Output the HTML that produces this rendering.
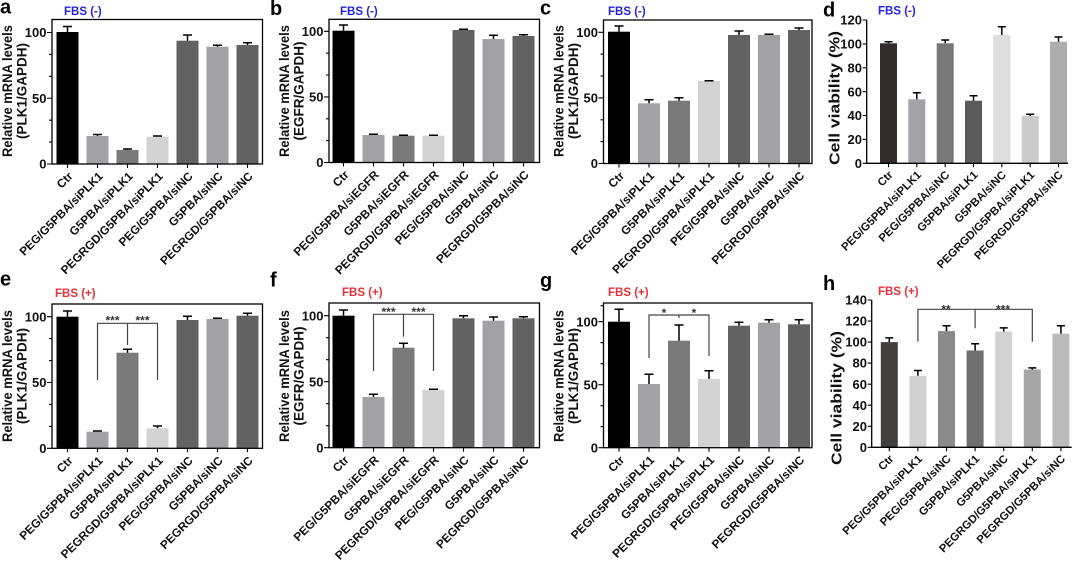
<!DOCTYPE html>
<html><head><meta charset="utf-8"><style>
html,body{margin:0;padding:0;background:#fff;}
svg{display:block;}
text{font-family:"Liberation Sans",Arial,sans-serif;font-weight:bold;fill:#111;}
.yt{font-size:13px;text-anchor:end;}
.yt2{font-size:13px;text-anchor:end;}
.xl{font-size:11.8px;text-anchor:end;}
.xl2{font-size:11.3px;text-anchor:end;}
.ti{font-size:13.5px;text-anchor:middle;}
.lt{font-size:20px;fill:#000;}
.fm{font-size:11.5px;fill:#2323e8;}
.fp{font-size:11.5px;fill:#e8313b;}
.st{font-size:12px;text-anchor:middle;fill:#333;}
.ax{stroke:#000;stroke-width:1.3;fill:none;}
.tk{stroke:#000;stroke-width:1.1;fill:none;}
.eb{stroke:#000;stroke-width:1.5;fill:none;}
.br{stroke:#444;stroke-width:1.2;fill:none;}
</style></head><body>
<svg width="1080" height="561" viewBox="0 0 1080 561" xmlns="http://www.w3.org/2000/svg">

<!-- ================= PANEL A ================= -->
<text class="lt" x="0" y="13.5">a</text>
<text class="fm" x="64" y="15">FBS (-)</text>
<text class="ti" textLength="132" lengthAdjust="spacingAndGlyphs" transform="translate(12,91) rotate(-90)">Relative mRNA levels</text>
<text class="ti" transform="translate(26.5,91) rotate(-90)">(PLK1/GAPDH)</text>
<g>
<rect x="56.5" y="32" width="22" height="132" fill="#000"/>
<rect x="86.5" y="136" width="22" height="28" fill="#a2a2a6"/>
<rect x="116.5" y="150" width="22" height="14" fill="#7a7a7a"/>
<rect x="146.5" y="136.7" width="22" height="27.3" fill="#d3d3d3"/>
<rect x="176.5" y="40.7" width="22" height="123.3" fill="#626262"/>
<rect x="206.5" y="46.7" width="22" height="117.3" fill="#a2a2a6"/>
<rect x="236.5" y="45" width="22" height="119" fill="#626262"/>
<path class="eb" d="M67.5,32V26.5M63,26.5H72 M97.5,136V134.5M93,134.5H102 M127.5,150V149M123,149H132 M157.5,136.7V136M153,136H162 M187.5,40.7V35M183,35H192 M217.5,46.7V45.3M213,45.3H222 M247.5,45V42.7M243,42.7H252"/>
</g>
<rect class="ax" x="52" y="19.5" width="210.5" height="144.5"/>
<path class="tk" d="M47,164H52 M47,98.25H52 M47,32.5H52 M49,142.1H52 M49,120.2H52 M49,76.3H52 M49,54.4H52 M67.5,164V168 M97.5,164V168 M127.5,164V168 M157.5,164V168 M187.5,164V168 M217.5,164V168 M247.5,164V168"/>
<text class="yt" x="46.5" y="168.6">0</text>
<text class="yt" x="46.5" y="102.8">50</text>
<text class="yt" x="46.5" y="37.1">100</text>
<text class="xl" transform="translate(73.5,177) rotate(-45)">Ctr</text>
<text class="xl" transform="translate(103.5,177) rotate(-45)">PEG/G5PBA/siPLK1</text>
<text class="xl" transform="translate(133.5,177) rotate(-45)">G5PBA/siPLK1</text>
<text class="xl" transform="translate(163.5,177) rotate(-45)">PEGRGD/G5PBA/siPLK1</text>
<text class="xl" transform="translate(193.5,177) rotate(-45)">PEG/G5PBA/siNC</text>
<text class="xl" transform="translate(223.5,177) rotate(-45)">G5PBA/siNC</text>
<text class="xl" transform="translate(253.5,177) rotate(-45)">PEGRGD/G5PBA/siNC</text>

<!-- ================= PANEL B ================= -->
<text class="lt" x="270" y="15">b</text>
<text class="fm" x="340" y="15">FBS (-)</text>
<text class="ti" textLength="132" lengthAdjust="spacingAndGlyphs" transform="translate(289,91) rotate(-90)">Relative mRNA levels</text>
<text class="ti" transform="translate(303.5,91) rotate(-90)">(EGFR/GAPDH)</text>
<g>
<rect x="332.5" y="30.7" width="22" height="131.8" fill="#000"/>
<rect x="362.5" y="135" width="22" height="27.5" fill="#a2a2a6"/>
<rect x="392.5" y="135.7" width="22" height="26.8" fill="#7a7a7a"/>
<rect x="422.5" y="135.7" width="22" height="26.8" fill="#d3d3d3"/>
<rect x="452.5" y="30" width="22" height="132.5" fill="#626262"/>
<rect x="482.5" y="39" width="22" height="123.5" fill="#a2a2a6"/>
<rect x="512.5" y="36" width="22" height="126.5" fill="#626262"/>
<path class="eb" d="M343.5,30.7V25M339,25H348 M373.5,135V134.3M369,134.3H378 M403.5,135.7V135.2M399,135.2H408 M433.5,135.7V135.2M429,135.2H438 M463.5,30V29.3M459,29.3H468 M493.5,39V35.3M489,35.3H498 M523.5,36V34.7M519,34.7H528"/>
</g>
<rect class="ax" x="329" y="19.3" width="210.5" height="143.2"/>
<path class="tk" d="M324,162.5H329 M324,96.9H329 M324,31.3H329 M326,140.6H329 M326,118.8H329 M326,75H329 M326,53.2H329 M343.5,162.5V166.5 M373.5,162.5V166.5 M403.5,162.5V166.5 M433.5,162.5V166.5 M463.5,162.5V166.5 M493.5,162.5V166.5 M523.5,162.5V166.5"/>
<text class="yt" x="323.5" y="167.1">0</text>
<text class="yt" x="323.5" y="101.5">50</text>
<text class="yt" x="323.5" y="35.9">100</text>
<text class="xl" transform="translate(349.5,175.5) rotate(-45)">Ctr</text>
<text class="xl" transform="translate(379.5,175.5) rotate(-45)">PEG/G5PBA/siEGFR</text>
<text class="xl" transform="translate(409.5,175.5) rotate(-45)">G5PBA/siEGFR</text>
<text class="xl" transform="translate(439.5,175.5) rotate(-45)">PEGRGD/G5PBA/siEGFR</text>
<text class="xl" transform="translate(469.5,175.5) rotate(-45)">PEG/G5PBA/siNC</text>
<text class="xl" transform="translate(499.5,175.5) rotate(-45)">G5PBA/siNC</text>
<text class="xl" transform="translate(529.5,175.5) rotate(-45)">PEGRGD/G5PBA/siNC</text>

<!-- ================= PANEL C ================= -->
<text class="lt" x="540" y="14.5">c</text>
<text class="fm" x="608" y="15">FBS (-)</text>
<text class="ti" textLength="132" lengthAdjust="spacingAndGlyphs" transform="translate(563.5,91) rotate(-90)">Relative mRNA levels</text>
<text class="ti" transform="translate(578,91) rotate(-90)">(PLK1/GAPDH)</text>
<g>
<rect x="608" y="31.7" width="22" height="131.8" fill="#000"/>
<rect x="638" y="103.3" width="22" height="60.2" fill="#a2a2a6"/>
<rect x="668" y="100.7" width="22" height="62.8" fill="#7a7a7a"/>
<rect x="698" y="81" width="22" height="82.5" fill="#d3d3d3"/>
<rect x="728" y="35" width="22" height="128.5" fill="#626262"/>
<rect x="758" y="35" width="22" height="128.5" fill="#a2a2a6"/>
<rect x="788" y="30" width="22" height="133.5" fill="#626262"/>
<path class="eb" d="M619,31.7V26M614.5,26H623.5 M649,103.3V99.7M644.5,99.7H653.5 M679,100.7V97.7M674.5,97.7H683.5 M709,81V80.7M704.5,80.7H713.5 M739,35V31M734.5,31H743.5 M769,35V34.3M764.5,34.3H773.5 M799,30V28M794.5,28H803.5"/>
</g>
<rect class="ax" x="603.5" y="20" width="208.5" height="143.5"/>
<path class="tk" d="M598.5,163.5H603.5 M598.5,97.9H603.5 M598.5,32.3H603.5 M600.5,141.6H603.5 M600.5,119.8H603.5 M600.5,76H603.5 M600.5,54.2H603.5 M619,163.5V167.5 M649,163.5V167.5 M679,163.5V167.5 M709,163.5V167.5 M739,163.5V167.5 M769,163.5V167.5 M799,163.5V167.5"/>
<text class="yt" x="598" y="168.1">0</text>
<text class="yt" x="598" y="102.5">50</text>
<text class="yt" x="598" y="36.9">100</text>
<text class="xl" transform="translate(625,176.5) rotate(-45)">Ctr</text>
<text class="xl" transform="translate(655,176.5) rotate(-45)">PEG/G5PBA/siPLK1</text>
<text class="xl" transform="translate(685,176.5) rotate(-45)">G5PBA/siPLK1</text>
<text class="xl" transform="translate(715,176.5) rotate(-45)">PEGRGD/G5PBA/siPLK1</text>
<text class="xl" transform="translate(745,176.5) rotate(-45)">PEG/G5PBA/siNC</text>
<text class="xl" transform="translate(775,176.5) rotate(-45)">G5PBA/siNC</text>
<text class="xl" transform="translate(805,176.5) rotate(-45)">PEGRGD/G5PBA/siNC</text>

<!-- ================= PANEL D ================= -->
<text class="lt" x="823" y="16.5">d</text>
<text class="fm" x="878" y="14.5">FBS (-)</text>
<text class="ti" style="font-size:14.5px" textLength="134" lengthAdjust="spacingAndGlyphs" transform="translate(839.5,98) rotate(-90)">Cell viability (%)</text>
<g>
<rect x="880" y="43.3" width="17" height="120" fill="#342c2c"/>
<rect x="908.3" y="99.3" width="17" height="64" fill="#a3a3a7"/>
<rect x="936.7" y="43.3" width="17" height="120" fill="#787878"/>
<rect x="965" y="100.7" width="17" height="62.6" fill="#5a5a5a"/>
<rect x="993.3" y="35" width="17" height="128.3" fill="#dddddd"/>
<rect x="1021.7" y="116" width="17" height="47.3" fill="#cbcbcb"/>
<rect x="1050" y="41.7" width="17" height="121.6" fill="#adadad"/>
<path class="eb" d="M888.5,43.3V41.7M884.5,41.7H892.5 M916.8,99.3V92.7M912.8,92.7H920.8 M945.2,43.3V40M941.2,40H949.2 M973.5,100.7V95.7M969.5,95.7H977.5 M1001.8,35V26.7M997.8,26.7H1005.8 M1030.2,116V114.3M1026.2,114.3H1034.2 M1058.5,41.7V37M1054.5,37H1062.5"/>
</g>
<path class="ax" d="M866.7,20V163.3H1068"/>
<path class="tk" d="M862.7,163.3H866.7 M862.7,139.4H866.7 M862.7,115.5H866.7 M862.7,91.7H866.7 M862.7,67.8H866.7 M862.7,43.9H866.7 M862.7,20H866.7 M888.5,163.3V167.3 M916.8,163.3V167.3 M945.2,163.3V167.3 M973.5,163.3V167.3 M1001.8,163.3V167.3 M1030.2,163.3V167.3 M1058.5,163.3V167.3"/>
<text class="yt2" x="862" y="167.9">0</text>
<text class="yt2" x="862" y="144">20</text>
<text class="yt2" x="862" y="120.1">40</text>
<text class="yt2" x="862" y="96.3">60</text>
<text class="yt2" x="862" y="72.4">80</text>
<text class="yt2" x="862" y="48.5">100</text>
<text class="yt2" x="862" y="24.6">120</text>
<text class="xl2" transform="translate(893.5,175.5) rotate(-45)">Ctr</text>
<text class="xl2" transform="translate(921.8,175.5) rotate(-45)">PEG/G5PBA/siPLK1</text>
<text class="xl2" transform="translate(950.2,175.5) rotate(-45)">PEG/G5PBA/siNC</text>
<text class="xl2" transform="translate(978.5,175.5) rotate(-45)">G5PBA/siPLK1</text>
<text class="xl2" transform="translate(1006.8,175.5) rotate(-45)">G5PBA/siNC</text>
<text class="xl2" transform="translate(1035.2,175.5) rotate(-45)">PEGRGD/G5PBA/siPLK1</text>
<text class="xl2" transform="translate(1063.5,175.5) rotate(-45)">PEGRGD/G5PBA/siNC</text>

<!-- ================= PANEL E ================= -->
<text class="lt" x="0" y="285.7">e</text>
<text class="fp" x="55" y="297">FBS (+)</text>
<text class="ti" textLength="132" lengthAdjust="spacingAndGlyphs" transform="translate(12,376) rotate(-90)">Relative mRNA levels</text>
<text class="ti" transform="translate(26.5,376) rotate(-90)">(PLK1/GAPDH)</text>
<g>
<rect x="56.5" y="316.7" width="22" height="131.6" fill="#000"/>
<rect x="86.5" y="431.7" width="22" height="16.6" fill="#a2a2a6"/>
<rect x="116.5" y="352.7" width="22" height="95.6" fill="#7a7a7a"/>
<rect x="146.5" y="428.3" width="22" height="20" fill="#d3d3d3"/>
<rect x="176.5" y="320" width="22" height="128.3" fill="#626262"/>
<rect x="206.5" y="319" width="22" height="129.3" fill="#a2a2a6"/>
<rect x="236.5" y="315.7" width="22" height="132.6" fill="#626262"/>
<path class="eb" d="M67.5,316.7V311M63,311H72 M97.5,431.7V431M93,431H102 M127.5,352.7V349.3M123,349.3H132 M157.5,428.3V426M153,426H162 M187.5,320V316.3M183,316.3H192 M217.5,319V318.3M213,318.3H222 M247.5,315.7V313.3M243,313.3H252"/>
</g>
<rect class="ax" x="52" y="304" width="210.5" height="144.3"/>
<path class="tk" d="M47,448.3H52 M47,382.5H52 M47,316.7H52 M49,426.4H52 M49,404.4H52 M49,360.6H52 M49,338.6H52 M67.5,448.3V452.3 M97.5,448.3V452.3 M127.5,448.3V452.3 M157.5,448.3V452.3 M187.5,448.3V452.3 M217.5,448.3V452.3 M247.5,448.3V452.3"/>
<text class="yt" x="46.5" y="452.9">0</text>
<text class="yt" x="46.5" y="387.1">50</text>
<text class="yt" x="46.5" y="321.3">100</text>
<path class="br" d="M97.5,380V323.3H157.5V380 M127.5,323.3V345"/>
<text class="st" x="112.5" y="324.5">***</text>
<text class="st" x="142.5" y="324.5">***</text>
<text class="xl" transform="translate(73.5,461.3) rotate(-45)">Ctr</text>
<text class="xl" transform="translate(103.5,461.3) rotate(-45)">PEG/G5PBA/siPLK1</text>
<text class="xl" transform="translate(133.5,461.3) rotate(-45)">G5PBA/siPLK1</text>
<text class="xl" transform="translate(163.5,461.3) rotate(-45)">PEGRGD/G5PBA/siPLK1</text>
<text class="xl" transform="translate(193.5,461.3) rotate(-45)">PEG/G5PBA/siNC</text>
<text class="xl" transform="translate(223.5,461.3) rotate(-45)">G5PBA/siNC</text>
<text class="xl" transform="translate(253.5,461.3) rotate(-45)">PEGRGD/G5PBA/siNC</text>

<!-- ================= PANEL F ================= -->
<text class="lt" x="270" y="286.5">f</text>
<text class="fp" x="342" y="296">FBS (+)</text>
<text class="ti" textLength="132" lengthAdjust="spacingAndGlyphs" transform="translate(289,376) rotate(-90)">Relative mRNA levels</text>
<text class="ti" transform="translate(303.5,376) rotate(-90)">(EGFR/GAPDH)</text>
<g>
<rect x="332.5" y="315.7" width="22" height="132" fill="#000"/>
<rect x="362.5" y="397" width="22" height="50.7" fill="#a2a2a6"/>
<rect x="392.5" y="347.7" width="22" height="100" fill="#7a7a7a"/>
<rect x="422.5" y="390" width="22" height="57.7" fill="#d3d3d3"/>
<rect x="452.5" y="318.3" width="22" height="129.4" fill="#626262"/>
<rect x="482.5" y="320.7" width="22" height="127" fill="#a2a2a6"/>
<rect x="512.5" y="318.3" width="22" height="129.4" fill="#626262"/>
<path class="eb" d="M343.5,315.7V310M339,310H348 M373.5,397V394.3M369,394.3H378 M403.5,347.7V343.3M399,343.3H408 M433.5,390V389.3M429,389.3H438 M463.5,318.3V315.7M459,315.7H468 M493.5,320.7V317M489,317H498 M523.5,318.3V316.7M519,316.7H528"/>
</g>
<rect class="ax" x="329" y="303" width="210.5" height="144.7"/>
<path class="tk" d="M324,447.7H329 M324,381.7H329 M324,315.7H329 M326,425.7H329 M326,403.7H329 M326,359.7H329 M326,337.7H329 M343.5,447.7V451.7 M373.5,447.7V451.7 M403.5,447.7V451.7 M433.5,447.7V451.7 M463.5,447.7V451.7 M493.5,447.7V451.7 M523.5,447.7V451.7"/>
<text class="yt" x="323.5" y="452.3">0</text>
<text class="yt" x="323.5" y="386.3">50</text>
<text class="yt" x="323.5" y="320.3">100</text>
<path class="br" d="M373.5,371V314.3H433.5V371 M403.5,314.3V336.7"/>
<text class="st" x="388.5" y="316">***</text>
<text class="st" x="418.5" y="316">***</text>
<text class="xl" transform="translate(349.5,460.7) rotate(-45)">Ctr</text>
<text class="xl" transform="translate(379.5,460.7) rotate(-45)">PEG/G5PBA/siEGFR</text>
<text class="xl" transform="translate(409.5,460.7) rotate(-45)">G5PBA/siEGFR</text>
<text class="xl" transform="translate(439.5,460.7) rotate(-45)">PEGRGD/G5PBA/siEGFR</text>
<text class="xl" transform="translate(469.5,460.7) rotate(-45)">PEG/G5PBA/siNC</text>
<text class="xl" transform="translate(499.5,460.7) rotate(-45)">G5PBA/siNC</text>
<text class="xl" transform="translate(529.5,460.7) rotate(-45)">PEGRGD/G5PBA/siNC</text>

<!-- ================= PANEL G ================= -->
<text class="lt" x="540" y="287">g</text>
<text class="fp" x="608" y="296">FBS (+)</text>
<text class="ti" textLength="132" lengthAdjust="spacingAndGlyphs" transform="translate(563.5,376) rotate(-90)">Relative mRNA levels</text>
<text class="ti" transform="translate(578,376) rotate(-90)">(PLK1/GAPDH)</text>
<g>
<rect x="608" y="321.7" width="22" height="126" fill="#000"/>
<rect x="638" y="384" width="22" height="63.7" fill="#a2a2a6"/>
<rect x="668" y="340.7" width="22" height="107" fill="#7a7a7a"/>
<rect x="698" y="379" width="22" height="68.7" fill="#d3d3d3"/>
<rect x="728" y="325.7" width="22" height="122" fill="#626262"/>
<rect x="758" y="322.7" width="22" height="125" fill="#a2a2a6"/>
<rect x="788" y="324.3" width="22" height="123.4" fill="#626262"/>
<path class="eb" d="M619,321.7V309.3M614.5,309.3H623.5 M649,384V374.3M644.5,374.3H653.5 M679,340.7V325M674.5,325H683.5 M709,379V370.7M704.5,370.7H713.5 M739,325.7V322.3M734.5,322.3H743.5 M769,322.7V319.7M764.5,319.7H773.5 M799,324.3V319.7M794.5,319.7H803.5"/>
</g>
<rect class="ax" x="603.5" y="303" width="208.5" height="144.7"/>
<path class="tk" d="M598.5,447.7H603.5 M598.5,384.7H603.5 M598.5,321.7H603.5 M600.5,426.7H603.5 M600.5,405.7H603.5 M600.5,363.7H603.5 M600.5,342.7H603.5 M600.5,305.7H603.5 M619,447.7V451.7 M649,447.7V451.7 M679,447.7V451.7 M709,447.7V451.7 M739,447.7V451.7 M769,447.7V451.7 M799,447.7V451.7"/>
<text class="yt" x="598" y="452.3">0</text>
<text class="yt" x="598" y="389.3">50</text>
<text class="yt" x="598" y="326.3">100</text>
<path class="br" d="M649,358V315H709V356 M679,315V318"/>
<text class="st" x="664" y="317">*</text>
<text class="st" x="694" y="317">*</text>
<text class="xl" transform="translate(625,460.7) rotate(-45)">Ctr</text>
<text class="xl" transform="translate(655,460.7) rotate(-45)">PEG/G5PBA/siPLK1</text>
<text class="xl" transform="translate(685,460.7) rotate(-45)">G5PBA/siPLK1</text>
<text class="xl" transform="translate(715,460.7) rotate(-45)">PEGRGD/G5PBA/siPLK1</text>
<text class="xl" transform="translate(745,460.7) rotate(-45)">PEG/G5PBA/siNC</text>
<text class="xl" transform="translate(775,460.7) rotate(-45)">G5PBA/siNC</text>
<text class="xl" transform="translate(805,460.7) rotate(-45)">PEGRGD/G5PBA/siNC</text>

<!-- ================= PANEL H ================= -->
<text class="lt" x="823" y="290">h</text>
<text class="fp" x="878" y="295">FBS (+)</text>
<text class="ti" style="font-size:14.5px" textLength="134" lengthAdjust="spacingAndGlyphs" transform="translate(841.5,398) rotate(-90)">Cell viability (%)</text>
<g>
<rect x="880.8" y="342.1" width="17" height="105.2" fill="#443f3f"/>
<rect x="909.4" y="375.8" width="17" height="71.5" fill="#d1d1d1"/>
<rect x="938" y="331.1" width="17" height="116.2" fill="#8b8b8b"/>
<rect x="966.6" y="350.5" width="17" height="96.8" fill="#6f6f6f"/>
<rect x="995.2" y="331.6" width="17" height="115.7" fill="#d2d2d2"/>
<rect x="1023.8" y="369.5" width="17" height="77.8" fill="#a6a6a6"/>
<rect x="1052.4" y="333.7" width="17" height="113.6" fill="#bbbbbb"/>
<path class="eb" d="M889.3,342.1V337.9M885.3,337.9H893.3 M917.9,375.8V370.5M913.9,370.5H921.9 M946.5,331.1V325.8M942.5,325.8H950.5 M975.1,350.5V343.7M971.1,343.7H979.1 M1003.7,331.6V327.9M999.7,327.9H1007.7 M1032.3,369.5V367.9M1028.3,367.9H1036.3 M1060.9,333.7V325.8M1056.9,325.8H1064.9"/>
</g>
<path class="ax" d="M871.7,300V447.3H1071.7"/>
<path class="tk" d="M867.7,447.3H871.7 M867.7,426.3H871.7 M867.7,405.2H871.7 M867.7,384.2H871.7 M867.7,363.1H871.7 M867.7,342.1H871.7 M867.7,321.1H871.7 M867.7,300H871.7 M889.3,447.3V451.3 M917.9,447.3V451.3 M946.5,447.3V451.3 M975.1,447.3V451.3 M1003.7,447.3V451.3 M1032.3,447.3V451.3 M1060.9,447.3V451.3"/>
<text class="yt2" x="867" y="451.9">0</text>
<text class="yt2" x="867" y="430.9">20</text>
<text class="yt2" x="867" y="409.8">40</text>
<text class="yt2" x="867" y="388.8">60</text>
<text class="yt2" x="867" y="367.7">80</text>
<text class="yt2" x="867" y="346.7">100</text>
<text class="yt2" x="867" y="325.7">120</text>
<text class="yt2" x="867" y="304.6">140</text>
<path class="br" d="M917.9,341.7V309.3H1032.3V341.7 M975.1,309.3V328.3"/>
<text class="st" x="946" y="313.6">**</text>
<text class="st" x="1003" y="313.6">***</text>
<text class="xl2" transform="translate(894.3,459.5) rotate(-45)">Ctr</text>
<text class="xl2" transform="translate(922.9,459.5) rotate(-45)">PEG/G5PBA/siPLK1</text>
<text class="xl2" transform="translate(951.5,459.5) rotate(-45)">PEG/G5PBA/siNC</text>
<text class="xl2" transform="translate(980.1,459.5) rotate(-45)">G5PBA/siPLK1</text>
<text class="xl2" transform="translate(1008.7,459.5) rotate(-45)">G5PBA/siNC</text>
<text class="xl2" transform="translate(1037.3,459.5) rotate(-45)">PEGRGD/G5PBA/siPLK1</text>
<text class="xl2" transform="translate(1065.9,459.5) rotate(-45)">PEGRGD/G5PBA/siNC</text>
</svg>
</body></html>
